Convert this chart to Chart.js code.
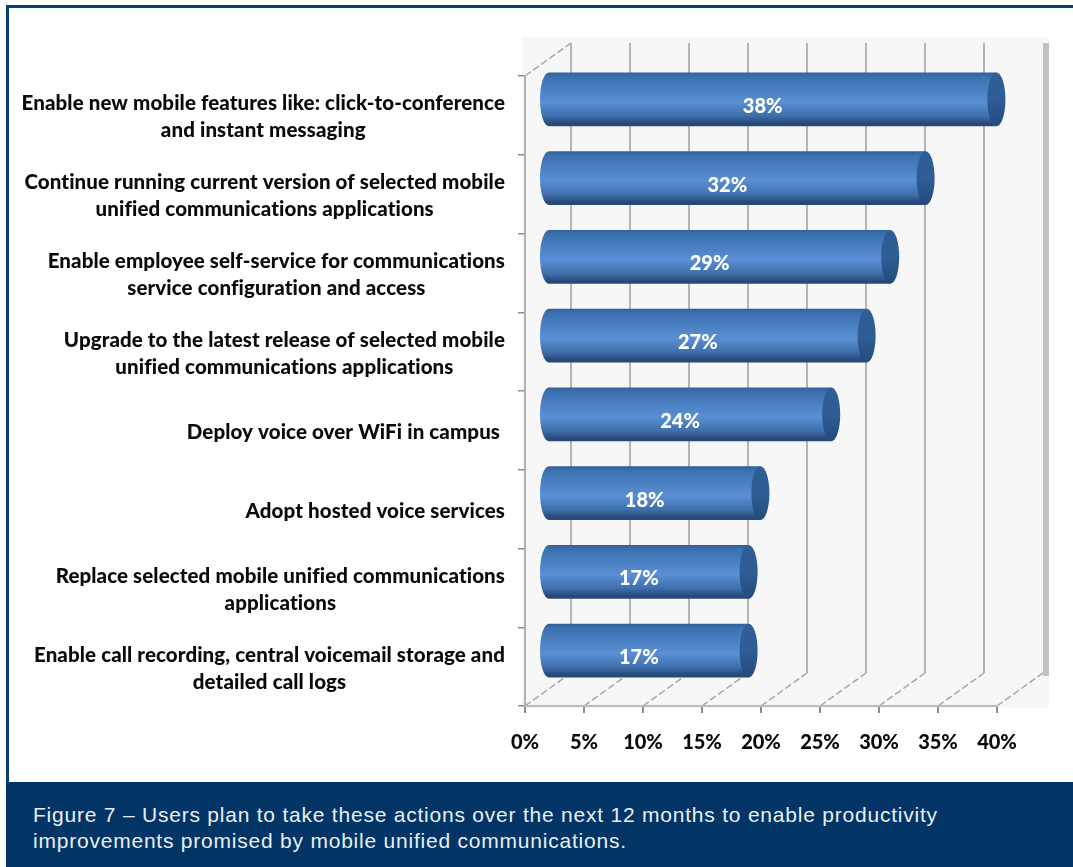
<!DOCTYPE html>
<html>
<head>
<meta charset="utf-8">
<title>Figure 7</title>
<script src="https://cdn.jsdelivr.net/npm/chart.js@4/dist/chart.umd.min.js"></script>
<style>
  html, body { margin: 0; padding: 0; background: #fff; }
  #page { position: relative; width: 1073px; height: 867px; overflow: hidden; }
  #frame { position: absolute; left: 6px; top: 5px; right: 0; bottom: 0; border-left: 3px solid #0b3f78; border-top: 3px solid #0b3f78; box-sizing: border-box; }
  #chartBox { position: absolute; left: 0; top: 0; width: 1073px; height: 867px; }
  #caption { position: absolute; left: 6px; top: 782px; right: 0; bottom: 0; background: #023565; color: #e9eef4;
    font: 21px/26px "Liberation Sans", sans-serif; letter-spacing: 0.78px; padding: 20px 0 0 27px; box-sizing: border-box; white-space: pre-line; }
</style>
</head>
<body>
<div id="page">
  <div id="frame"></div>
  <div id="chartBox"><canvas id="chart" width="1073" height="867"></canvas></div>
  <div id="caption"></div>
</div>
<script>
(() => {
  // chart data
  const categories = [
    ['Enable new mobile features like: click-to-conference', 'and instant messaging'],
    ['Continue running current version of selected mobile', 'unified communications applications'],
    ['Enable employee self-service for communications', 'service configuration and access'],
    ['Upgrade to the latest release of selected mobile', 'unified communications applications'],
    ['Deploy voice over WiFi in campus '],
    ['Adopt hosted voice services'],
    ['Replace selected mobile unified communications', 'applications'],
    ['Enable call recording, central voicemail storage and', 'detailed call logs']
  ];
  const percentages = [38, 32, 29, 27, 24, 18, 17, 17];
  const captionLines = [
    'Figure 7 \u2013 Users plan to take these actions over the next 12 months to enable productivity',
    'improvements promised by mobile unified communications.'
  ];

  document.getElementById('caption').textContent = captionLines.join('\n');

  const categoryFont = '900 20.5px Lato, sans-serif';
  const valueFont = '900 20px Lato, sans-serif';
  const BAR_SHARE = 0.685;
  const DEPTH_X = 46, DEPTH_Y = -33;   // floor depth of the fake 3D box
  const BAR_DX = 23, BAR_DY = -16;     // bars sit halfway into the box
  const CAP_RX = 9;                    // horizontal radius of the cylinder ends

  function barGradient(ctx, y, h) {
    const top = y - h / 2;
    const g = ctx.createLinearGradient(0, top, 0, top + h);
    g.addColorStop(0, '#2f5f98');
    g.addColorStop(0.08, '#3b70b0');
    g.addColorStop(0.55, '#5a8fd4');
    g.addColorStop(0.8, '#3f70ad');
    g.addColorStop(0.95, '#27497a');
    g.addColorStop(1, '#2a4a75');
    return g;
  }

  // back wall, floor and grid of the box
  const boxPlugin = {
    id: 'box',
    beforeDraw(chart) {
      const { ctx, scales: { x, y } } = chart;
      const left = x.left, right = x.right, top = y.top, bottom = y.bottom;
      ctx.save();
      ctx.fillStyle = '#f7f7f7';
      ctx.fillRect(left - 3, top + DEPTH_Y - 6, right - left + DEPTH_X + 9, bottom - top - DEPTH_Y + 8);

      // right hand wall edge
      ctx.fillStyle = '#c2c2c2';
      ctx.fillRect(right + DEPTH_X, top + DEPTH_Y, 6, bottom - top + 3);

      x.ticks.forEach(t => {
        const px = x.getPixelForValue(t.value);
        if (t.value < 40) {
          ctx.strokeStyle = '#b5b5b5';
          ctx.lineWidth = 2;
          ctx.beginPath();
          ctx.moveTo(px + DEPTH_X, top + DEPTH_Y);
          ctx.lineTo(px + DEPTH_X, bottom + DEPTH_Y);
          ctx.stroke();
        }
        ctx.strokeStyle = '#a6a6a6';
        ctx.lineWidth = 1.5;
        ctx.setLineDash([7, 3]);
        ctx.beginPath();
        ctx.moveTo(px, bottom);
        ctx.lineTo(px + DEPTH_X, bottom + DEPTH_Y);
        ctx.stroke();
        ctx.setLineDash([]);
      });

      // top left edge of the side wall
      ctx.strokeStyle = '#a6a6a6';
      ctx.lineWidth = 1.5;
      ctx.setLineDash([7, 3]);
      ctx.beginPath();
      ctx.moveTo(left, top);
      ctx.lineTo(left + DEPTH_X, top + DEPTH_Y);
      ctx.stroke();
      ctx.restore();
    },
    // bars are shifted into the box until afterDatasetsDraw
    beforeDatasetsDraw(chart) {
      chart.ctx.save();
      chart.ctx.translate(BAR_DX, BAR_DY);
    },
    afterDatasetsDraw(chart) {
      const { ctx } = chart;
      const bars = chart.getDatasetMeta(0).data;
      bars.forEach(bar => {
        const h = bar.height;
        // rounded far end
        ctx.fillStyle = barGradient(ctx, bar.y, h);
        ctx.beginPath();
        ctx.ellipse(bar.base, bar.y, CAP_RX, h / 2, 0, Math.PI / 2, Math.PI * 1.5);
        ctx.fill();
        // flat cap at the value end
        const g = ctx.createLinearGradient(0, bar.y - h / 2, 0, bar.y + h / 2);
        g.addColorStop(0, '#2f5f98');
        g.addColorStop(0.5, '#2f5d96');
        g.addColorStop(1, '#234a7a');
        ctx.fillStyle = g;
        ctx.beginPath();
        ctx.ellipse(bar.x, bar.y, CAP_RX, h / 2, 0, 0, Math.PI * 2);
        ctx.fill();
      });
      ctx.restore();

      // value labels
      ctx.save();
      ctx.fillStyle = '#fff';
      ctx.font = valueFont;
      ctx.textAlign = 'center';
      ctx.textBaseline = 'middle';
      bars.forEach((bar, i) => {
        ctx.fillText(percentages[i] + '%', (bar.base + bar.x) / 2 + BAR_DX - 10, bar.y - 9);
      });
      ctx.restore();
    },
    // category labels: each block right aligned, lines centred inside it
    afterDraw(chart) {
      const { ctx, scales: { y } } = chart;
      const rightEdge = 505, lineHeight = 27;
      ctx.save();
      ctx.fillStyle = '#0a0a0a';
      ctx.font = categoryFont;
      ctx.letterSpacing = '0.1px';
      ctx.textBaseline = 'middle';
      ctx.textAlign = 'center';
      categories.forEach((lines, i) => {
        const w = Math.max(...lines.map(l => ctx.measureText(l).width));
        const cy = y.getPixelForValue(i) + 2;
        lines.forEach((l, j) => {
          ctx.fillText(l, rightEdge - w / 2, cy + (j - (lines.length - 1) / 2) * lineHeight);
        });
      });
      ctx.restore();
    }
  };

  new Chart(document.getElementById('chart').getContext('2d'), {
    type: 'bar',
    data: {
      labels: categories.map(c => c.join(' ')),
      datasets: [{
        data: percentages,
        categoryPercentage: 1,
        barPercentage: BAR_SHARE,
        backgroundColor(c) {
          const y = c.chart.scales.y;
          const mid = y ? y.getPixelForValue(c.dataIndex) : NaN;
          const h = y ? y.height / categories.length * BAR_SHARE : NaN;
          // scales have no size yet on the first pass
          if (!Number.isFinite(mid) || !Number.isFinite(h) || h <= 0) return '#4a7ebb';
          return barGradient(c.chart.ctx, mid, h);
        }
      }]
    },
    options: {
      indexAxis: 'y',
      responsive: false,
      animation: false,
      layout: { padding: { left: 518, right: 76, top: 76, bottom: 111 } },
      plugins: { legend: { display: false }, tooltip: { enabled: false } },
      scales: {
        x: {
          min: 0, max: 40,
          afterFit(s) { s.height = 50; },
          ticks: {
            stepSize: 5,
            padding: 18,
            color: '#0a0a0a',
            font: { family: 'Lato', weight: '900', size: 20 },
            callback: v => v + '%',
            maxRotation: 0
          },
          grid: { drawOnChartArea: false, color: '#8c8c8c', lineWidth: 2, tickLength: 7 },
          border: { color: '#bbbbbb', width: 2 }
        },
        y: {
          afterFit(s) { s.width = 7; },
          ticks: { display: false },
          grid: { drawOnChartArea: false, color: '#8c8c8c', lineWidth: 1.5, tickLength: 7, offset: true },
          border: { color: '#b0b0b0', width: 2 }
        }
      }
    },
    plugins: [boxPlugin]
  });
})();
</script>
</body>
</html>
